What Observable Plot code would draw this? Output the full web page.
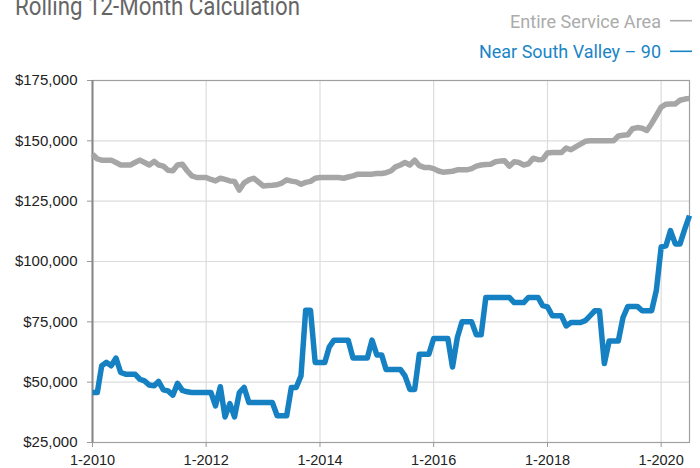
<!DOCTYPE html>
<html><head><meta charset="utf-8">
<script src="https://cdn.jsdelivr.net/npm/d3@7"></script>
<script src="https://cdn.jsdelivr.net/npm/@observablehq/plot@0.6"></script>
<style>
html,body{margin:0;padding:0;background:#fff;}
#wrap{position:relative;width:700px;height:468px;overflow:hidden;}
#overlay{position:absolute;left:0;top:0;}
</style></head><body>
<div id="wrap"><div id="chart"></div></div>
<script>
const titleText = "Rolling 12-Month Calculation";
const seriesNames = ["Entire Service Area", "Near South Valley – 90"];
const seriesColors = ["#a6a6a6", "#1581c3"];
const legendColors = ["#ababab", "#1a85c6"];
const firstMonth = [2010, 0];
const lastMonth = [2020, 6];
// values in thousands of dollars, monthly Jan 2010 .. Jul 2020
const entireServiceArea = [
144.5,142.5,142,142,142,141,140,140,140,141,142,141,
140,141.5,140,139.5,137.8,137.6,140,140.3,137.6,135.5,134.8,134.8,
134.8,134,133.4,134.5,134,133.4,133.2,129.6,132.6,133.8,134.5,133,
131.3,131.5,131.6,131.8,132.5,133.8,133.3,133,132,132.8,133.2,134.5,
134.8,134.8,134.8,134.8,134.8,134.5,135,135.5,136.2,136.2,136.2,136.2,
136.5,136.5,136.8,137.5,139.2,140,141,140,142,139.7,139,139,
138.5,137.5,137,137.2,137.4,138,138,138,138.5,139.5,140,140.2,
140.3,141.3,141.6,141.7,139.5,141.3,141,140,140.5,142.8,142.2,142.3,
145,145.2,145.2,145.2,147,146.3,147.5,148.6,149.8,150,150,150,
150,150,150,152,152.3,152.5,155,155.5,155.2,154.3,157.2,160.5,
164,165.2,165.3,165.3,166.8,167.3,167.6];
const nearSouthValley = [
45.7,45.7,56.8,58.2,56.8,60,54,53.3,53.3,53.3,51.2,50.5,
48.8,48.5,50.3,46.8,46.4,44.6,49.5,46.6,46,45.7,45.7,45.7,
45.7,45.7,40.2,48.1,35.6,41.1,35.6,45.7,47.8,41.6,41.6,41.6,
41.6,41.6,41.6,36.1,36.1,36.1,47.8,47.8,52.6,79.8,79.8,58.2,
58.2,58.2,64.5,67.4,67.4,67.4,67.4,60,60,60,60,67.4,
61.3,61.3,55.3,55.3,55.3,55.3,52.6,47,47,61.6,61.6,61.6,
68.1,68.1,68.1,68.1,56.3,68.5,75,75,75,69.6,69.6,85.1,
85.1,85.1,85.1,85.1,85.1,83,83,83,85.1,85.1,85.1,81.7,
81.2,77.5,77.5,77.5,73.3,74.7,74.7,74.7,75.5,77.5,79.6,79.6,
57.7,67.1,67.1,67.1,76.8,81.4,81.4,81.4,79.6,79.6,79.6,88,
106,106.5,112.8,107.3,107.3,113.5,119];
const xTickYears = [2010, 2012, 2014, 2016, 2018, 2020];
const yTicks = [25, 50, 75, 100, 125, 150, 175];

const start = new Date(Date.UTC(firstMonth[0], firstMonth[1], 1));
const end = new Date(Date.UTC(lastMonth[0], lastMonth[1], 1));
const months = d3.utcMonth.range(start, d3.utcMonth.offset(end, 1));
const rows = [];
[entireServiceArea, nearSouthValley].forEach((vals, s) => {
  vals.forEach((v, i) => rows.push({date: months[i], value: v, series: seriesNames[s]}));
});
const xTicks = xTickYears.map(y => new Date(Date.UTC(y, 0, 1)));
const fmtY = v => "$" + d3.format(",")(v * 1000);
const fmtX = d => "1-" + d.getUTCFullYear();

const chart = Plot.plot({
  width: 700, height: 468,
  marginTop: 80, marginLeft: 92, marginRight: 11, marginBottom: 26,
  style: {fontFamily: "'Liberation Sans', Arial, sans-serif", background: "#fff", overflow: "visible"},
  x: {type: "utc", domain: [start, end], label: null},
  y: {domain: [25, 175], label: null},
  color: {domain: seriesNames, range: seriesColors},
  marks: [
    Plot.gridX(xTicks, {stroke: "#dcdcdc", strokeOpacity: 1, strokeWidth: 1.2}),
    Plot.gridY(yTicks, {stroke: "#dcdcdc", strokeOpacity: 1, strokeWidth: 1.2}),
    Plot.frame({stroke: "#a0a0a0", strokeWidth: 1.2}),
    Plot.axisX(xTicks, {tickFormat: fmtX, tickSize: 5, tickPadding: 7, fontSize: 14.5, stroke: "#999", fill: "#222", label: null}),
    Plot.axisY(yTicks, {tickFormat: fmtY, tickSize: 5, tickPadding: 10, fontSize: 15, stroke: "#999", fill: "#222", label: null}),
    Plot.ruleX([start], {stroke: "#888", strokeWidth: 2}),
    Plot.line(rows, {x: "date", y: "value", z: "series", stroke: "series", strokeWidth: 5.5, strokeLinejoin: "round", strokeLinecap: "butt"})
  ]
});
document.getElementById("chart").appendChild(chart);

// title and legend overlay (real text)
const ns = "http://www.w3.org/2000/svg";
const ov = document.createElementNS(ns, "svg");
ov.setAttribute("id", "overlay");
ov.setAttribute("width", 700);
ov.setAttribute("height", 70);
function addText(str, x, y, size, color, anchor, len) {
  const t = document.createElementNS(ns, "text");
  t.textContent = str;
  t.setAttribute("x", x); t.setAttribute("y", y);
  t.setAttribute("font-family", "Roboto, 'Liberation Sans', sans-serif");
  t.setAttribute("font-size", size);
  t.setAttribute("fill", color);
  t.setAttribute("text-anchor", anchor);
  if (len) { t.setAttribute("textLength", len); t.setAttribute("lengthAdjust", "spacingAndGlyphs"); }
  ov.appendChild(t);
}
addText(titleText, 15, 15, 25, "#666", "start", 285);
const legendY = [27.7, 58.3];
const legendLen = [151, 182];
seriesNames.forEach((n, i) => {
  addText(n, 661, legendY[i], 19, legendColors[i], "end", legendLen[i]);
  const l = document.createElementNS(ns, "line");
  l.setAttribute("x1", 670); l.setAttribute("x2", 692);
  l.setAttribute("y1", legendY[i] - 7); l.setAttribute("y2", legendY[i] - 7);
  l.setAttribute("stroke", legendColors[i]); l.setAttribute("stroke-width", 1.6);
  ov.appendChild(l);
});
document.getElementById("wrap").appendChild(ov);
</script>
</body></html>
